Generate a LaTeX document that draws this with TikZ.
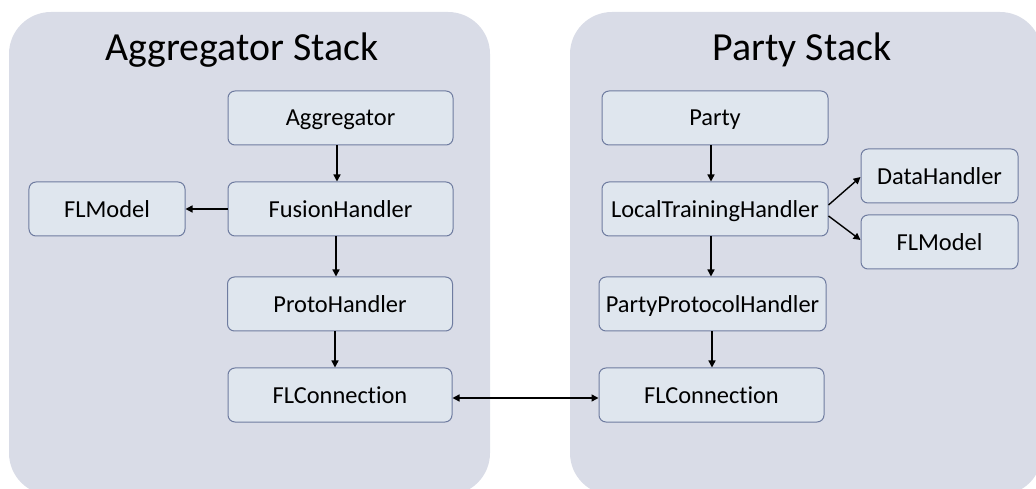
\documentclass[tikz,border=0pt]{standalone}
\usepackage{fontspec}
\setmainfont{Carlito}[RawFeature=-liga]
\usetikzlibrary{arrows.meta}
\definecolor{panelc}{HTML}{D9DCE7}
\definecolor{boxfill}{HTML}{DFE6EE}
\definecolor{boxline}{HTML}{6F7CA0}
\tikzset{
  comp/.style={draw=boxline, fill=boxfill, line width=1bp, rounded corners=7bp,
    minimum height=54bp, inner sep=0pt, text depth=0pt,
    font=\fontsize{24.5}{28}\selectfont},
  link/.style={line width=1.4bp, -{Triangle[length=7bp,width=7bp]}},
  biglink/.style={line width=1.4bp, {Triangle[length=7bp,width=7bp]}-{Triangle[length=7bp,width=7bp]}},
  paneltitle/.style={font=\fontsize{40}{46}\selectfont, inner sep=0pt}
}
\begin{document}
\begin{tikzpicture}[x=1bp,y=-1bp]
\useasboundingbox (0,0) rectangle (1036,489);
\clip (0,0) rectangle (1036,489);
% panels
\fill[panelc, rounded corners=42bp] (9,12) rectangle (490,495);
\fill[panelc, rounded corners=42bp] (570,12) rectangle (1042,495);
\node[paneltitle] (t1) at (242,50) {Aggregator Stack};
\node[paneltitle] (t2) at (802,50) {Party Stack};
% aggregator side
\node[comp, minimum width=225bp] (agg) at (340.5,118) {Aggregator};
\node[comp, minimum width=225bp] (fh) at (340.5,209) {FusionHandler};
\node[comp, minimum width=156bp] (flm1) at (107,209) {FLModel};
\node[comp, minimum width=225bp] (ph) at (340,304) {ProtoHandler};
\node[comp, minimum width=224bp] (flc1) at (340,395) {FLConnection};
% party side
\node[comp, minimum width=226bp] (party) at (715,118) {Party};
\node[comp, minimum width=226bp] (lth) at (715,209) {LocalTrainingHandler};
\node[comp, minimum width=157bp] (dh) at (939.5,176) {DataHandler};
\node[comp, minimum width=157bp] (flm2) at (939.5,242) {FLModel};
\node[comp, minimum width=227bp] (pph) at (712.5,304) {PartyProtocolHandler};
\node[comp, minimum width=225bp] (flc2) at (711.5,395) {FLConnection};
% connectors
\draw[link] (agg.south -| 337,0) -- (fh.north -| 337,0);
\draw[link] (fh.west) -- (flm1.east);
\draw[link] (fh.south -| 336,0) -- (ph.north -| 336,0);
\draw[link] (ph.south -| 335,0) -- (flc1.north -| 335,0);
\draw[link] (party.south -| 711,0) -- (lth.north -| 711,0);
\draw[link] (lth.south -| 711,0) -- (pph.north -| 711,0);
\draw[link] (pph.south -| 712,0) -- (flc2.north -| 712,0);
\draw[link] ([yshift=4bp]lth.east) -- ([yshift=-1bp]dh.west);
\draw[link] ([yshift=-7bp]lth.east) -- ([yshift=2bp]flm2.west);
\draw[biglink] ([yshift=-3bp]flc1.east) -- ([yshift=-3bp]flc2.west);
\end{tikzpicture}
\end{document}
